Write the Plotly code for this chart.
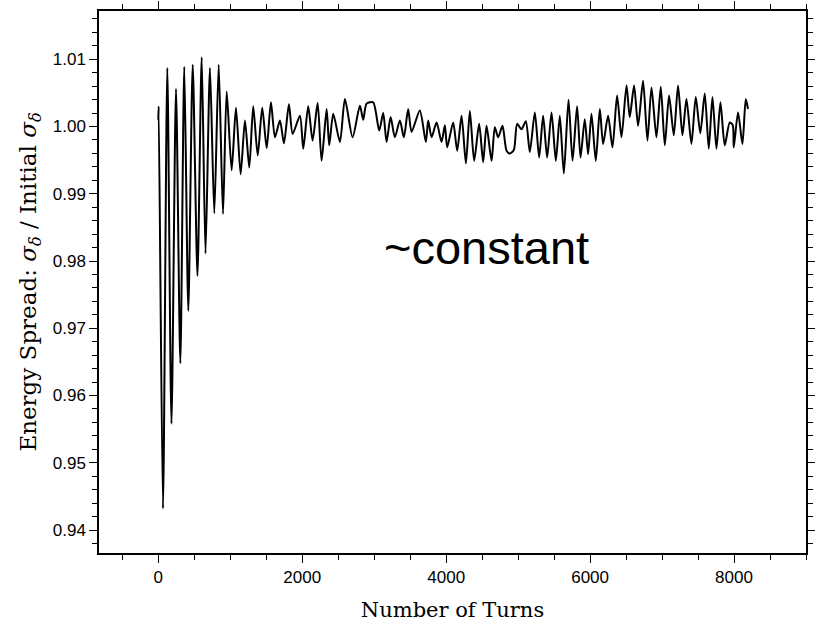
import plotly.graph_objects as go

# Number of turns
turns = [0, 5, 65, 125, 183, 246, 306, 361, 417, 478, 544, 603, 656, 718, 778, 839, 899, 950,
         1019, 1079, 1144, 1204, 1264, 1319, 1381, 1444, 1506, 1565, 1621, 1690, 1746, 1815, 1867,
         1968, 2014, 2083, 2144, 2214, 2269, 2339, 2375, 2431, 2524, 2593, 2700, 2801, 2848, 2894,
         2986, 3069, 3125, 3172, 3228, 3287, 3357, 3412, 3472, 3519, 3634, 3718, 3750, 3797, 3867,
         3936, 3982, 4014, 4097, 4153, 4214, 4274, 4329, 4389, 4458, 4514, 4561, 4631, 4676, 4722,
         4783, 4839, 4885, 4940, 4986, 5047, 5107, 5162, 5232, 5292, 5347, 5403, 5464, 5524, 5579,
         5635, 5700, 5756, 5819, 5867, 5926, 5972, 6019, 6079, 6135, 6181, 6250, 6311, 6375, 6436,
         6506, 6551, 6611, 6667, 6736, 6797, 6853, 6922, 6982, 7038, 7097, 7163, 7222, 7283, 7339,
         7408, 7468, 7531, 7593, 7649, 7700, 7756, 7811, 7871, 7940, 7982, 7996, 8056, 8117, 8163,
         8194]

# Energy spread ratio sigma_delta / initial sigma_delta
ratio = [1.0010, 1.0030, 0.9432, 1.0087, 0.9558, 1.0056, 0.9648, 1.0089, 0.9726, 1.0092, 0.9778,
         1.0103, 0.9811, 1.0087, 0.9871, 1.0092, 0.9870, 1.0052,
         0.9935, 1.0028, 0.9929, 1.0009, 0.9939, 1.0030, 0.9957, 1.0028, 0.9968, 1.0036, 0.9984,
         1.0009, 0.9975, 1.0033, 0.9989,
         1.0016, 0.9967, 1.0030, 0.9979, 1.0035, 0.9949, 1.0026, 0.9972, 1.0019, 0.9977, 1.0041,
         0.9984, 1.0031, 1.0010, 1.0034,
         1.0036, 0.9994, 1.0020, 0.9977, 1.0014, 0.9984, 1.0009, 0.9984, 1.0026, 0.9992, 1.0024,
         0.9977, 1.0009, 0.9984, 1.0006,
         0.9977, 1.0002, 0.9969, 1.0006, 0.9964, 1.0016, 0.9945, 1.0023, 0.9949, 1.0004, 0.9947,
         1.0001, 0.9949, 0.9999, 0.9984,
         1.0001, 0.9964, 0.9960, 0.9965, 1.0004, 0.9996, 1.0008, 0.9962, 1.0021, 0.9954, 1.0016,
         0.9954, 1.0021, 0.9949, 1.0016,
         0.9930, 1.0040, 0.9949, 1.0030, 0.9954, 1.0011, 0.9959, 1.0019, 0.9949, 1.0026, 0.9974,
         1.0016, 0.9969, 1.0046, 0.9984,
         1.0061, 1.0014, 1.0061, 1.0001, 1.0068, 0.9979, 1.0058, 0.9984, 1.0059, 0.9972, 1.0046,
         0.9987, 1.0061, 0.9987, 1.0041,
         0.9974, 1.0044, 0.9990, 1.0049, 0.9967, 1.0044, 0.9967, 1.0036, 0.9972, 1.0006, 1.0002,
         0.9969, 1.0021, 0.9974, 1.0041,
         1.0026]

x_range = [-824, 9000]
y_range = [0.93658, 1.01718]

fig = go.Figure()
fig.add_trace(go.Scatter(x=turns, y=ratio, mode="lines",
                         line=dict(color="black", width=2, shape="spline", smoothing=0.7),
                         showlegend=False))

axis_common = dict(
    showline=True, linecolor="black", linewidth=1.5, mirror="ticks",
    ticks="outside", ticklen=8, tickwidth=1.3, tickcolor="black",
    showgrid=False, zeroline=False, automargin=False,
    tickfont=dict(family="Liberation Sans, Arial, sans-serif", size=17, color="black"),
)

serif = "DejaVu Serif"

fig.update_xaxes(
    range=x_range, tick0=0, dtick=2000,
    minor=dict(ticks="outside", ticklen=5, tickwidth=1.3, tickcolor="black", dtick=500, tick0=0, showgrid=False),
    title=dict(text="Number of Turns", standoff=24,
               font=dict(family=serif, size=21, color="black")),
    **axis_common)
fig.update_yaxes(
    range=y_range, tick0=0.94, dtick=0.01, tickformat=".2f",
    minor=dict(ticks="outside", ticklen=5, tickwidth=1.3, tickcolor="black", dtick=0.002, tick0=0.94, showgrid=False),
    title=dict(text="Energy Spread: <i>σ</i><sub><i>δ</i></sub> / Initial <i>σ</i><sub><i>δ</i></sub>",
               standoff=10, font=dict(family=serif, size=23, color="black")),
    **axis_common)

pw, ph = 815 - 99 - 9, 622 - 11 - 69
fig.add_annotation(text="~constant",
                   x=(486 - 99) / pw, y=1 - (248 - 11) / ph,
                   xref="paper", yref="paper",
                   showarrow=False,
                   font=dict(family="Liberation Sans, Arial, sans-serif", size=47, color="black"))

fig.update_layout(
    width=815, height=622,
    margin=dict(l=99, r=9, t=11, b=69),
    paper_bgcolor="white", plot_bgcolor="white",
)

fig.write_html("out.html")
